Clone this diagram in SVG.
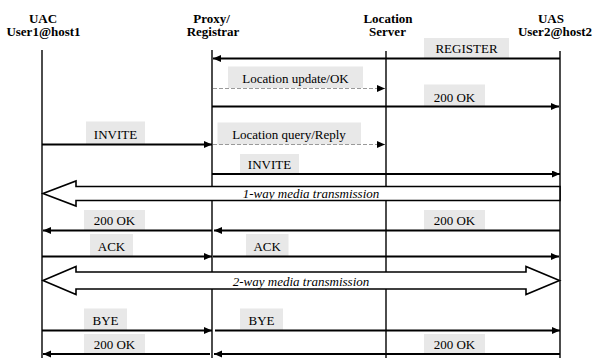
<svg xmlns="http://www.w3.org/2000/svg" width="596" height="358" viewBox="0 0 596 358">
<style>
.hdr{font-family:"Liberation Serif","Times New Roman",serif;font-weight:bold;font-size:13px;text-anchor:middle;fill:#000}
.lbl{font-family:"Liberation Serif","Times New Roman",serif;font-size:13px;text-anchor:middle;fill:#000}
.media{font-family:"Liberation Serif","Times New Roman",serif;font-style:italic;font-size:13px;text-anchor:middle;fill:#000}
.life{stroke:#000;stroke-width:1.4}
.msg{stroke:#000;stroke-width:1.8;fill:none}
.dash{stroke:#999;stroke-width:1;stroke-dasharray:4 2;fill:none}
.box{fill:#e8e8e8}
.big{fill:#fff;stroke:#000;stroke-width:1.6;stroke-linejoin:miter}
</style>
<defs>
<marker id="ah" markerUnits="userSpaceOnUse" markerWidth="10" markerHeight="8" refX="8" refY="3.5" orient="auto">
<path d="M0,0 L8,3.5 L0,7 z" fill="#000"/>
</marker>
</defs>
<rect width="596" height="358" fill="#fff"/>

<g id="uac">
<text class="hdr" x="43" y="22.5">UAC</text>
<text class="hdr" x="43.5" y="36">User1@host1</text>
<line class="life" x1="42" y1="50" x2="42" y2="358"/>
</g>
<g id="proxy">
<text class="hdr" x="211.5" y="22.5">Proxy/</text>
<text class="hdr" x="213" y="36">Registrar</text>
<line class="life" x1="212" y1="50" x2="212" y2="358"/>
</g>
<g id="location">
<text class="hdr" x="388" y="22.5">Location</text>
<text class="hdr" x="387.5" y="36">Server</text>
<line class="life" x1="386" y1="51" x2="386" y2="358"/>
</g>
<g id="uas">
<text class="hdr" x="551" y="22.5">UAS</text>
<text class="hdr" x="555" y="36">User2@host2</text>
<line class="life" x1="560" y1="51" x2="560" y2="358"/>
</g>

<g id="connectors">
<!-- media transmissions -->
<polygon class="big" points="43,193.5 76,181 76,186.5 560,186.5 560,200.5 76,200.5 76,206"/>
<text class="media" x="311" y="198">1-way media transmission</text>
<polygon class="big" points="43,280.5 76,266.5 76,272 526,272 526,266.5 559.5,280.5 526,294.5 526,289 76,289 76,294.5"/>
<text class="media" x="301" y="286">2-way media transmission</text>

<!-- REGISTER -->
<rect class="box" x="424" y="38" width="85" height="20"/>
<text class="lbl" x="466.5" y="52.5">REGISTER</text>
<line class="msg" x1="560" y1="58.5" x2="213" y2="58.5" marker-end="url(#ah)"/>

<!-- Location update/OK -->
<rect class="box" x="228" y="66.5" width="135" height="21.5"/>
<text class="lbl" x="295.5" y="83">Location update/OK</text>
<line class="dash" x1="213" y1="88.5" x2="385" y2="88.5" marker-end="url(#ah)"/>

<!-- 200 OK -->
<rect class="box" x="424" y="84.5" width="61" height="22"/>
<text class="lbl" x="454.5" y="101.5">200 OK</text>
<line class="msg" x1="212" y1="106.5" x2="559" y2="106.5" marker-end="url(#ah)"/>

<!-- INVITE -->
<rect class="box" x="86" y="121.5" width="59" height="22.5"/>
<text class="lbl" x="115.5" y="138.5">INVITE</text>
<line class="msg" x1="42" y1="144.5" x2="212" y2="144.5" marker-end="url(#ah)"/>

<!-- Location query/Reply -->
<rect class="box" x="217.5" y="122.5" width="143.5" height="22"/>
<text class="lbl" x="289" y="139">Location query/Reply</text>
<line class="dash" x1="213" y1="144.5" x2="385" y2="144.5" marker-end="url(#ah)"/>

<!-- INVITE 2 -->
<rect class="box" x="240" y="154" width="59" height="19.5"/>
<text class="lbl" x="269.5" y="168.5">INVITE</text>
<line class="msg" x1="212" y1="174" x2="560" y2="174" marker-end="url(#ah)"/>

<!-- 200 OK -->
<rect class="box" x="84" y="210" width="61" height="20"/>
<text class="lbl" x="114.5" y="225">200 OK</text>
<line class="msg" x1="212" y1="230.5" x2="43" y2="230.5" marker-end="url(#ah)"/>
<rect class="box" x="424" y="210" width="61" height="20"/>
<text class="lbl" x="454.5" y="225">200 OK</text>
<line class="msg" x1="560" y1="230.5" x2="214" y2="230.5" marker-end="url(#ah)"/>

<!-- ACK -->
<rect class="box" x="90" y="234" width="43" height="22.5"/>
<text class="lbl" x="111.5" y="251">ACK</text>
<line class="msg" x1="42" y1="256.5" x2="212" y2="256.5" marker-end="url(#ah)"/>
<rect class="box" x="246" y="234" width="42.5" height="22.5"/>
<text class="lbl" x="267.2" y="251">ACK</text>
<line class="msg" x1="213" y1="256.5" x2="559" y2="256.5" marker-end="url(#ah)"/>

<!-- BYE -->
<rect class="box" x="84" y="308.5" width="43" height="22"/>
<text class="lbl" x="105.5" y="325">BYE</text>
<line class="msg" x1="42" y1="330.5" x2="212" y2="330.5" marker-end="url(#ah)"/>
<rect class="box" x="240" y="308.5" width="43" height="22"/>
<text class="lbl" x="261.5" y="325">BYE</text>
<line class="msg" x1="215" y1="330.5" x2="560" y2="330.5" marker-end="url(#ah)"/>

<!-- 200 OK -->
<rect class="box" x="84" y="334" width="61" height="20"/>
<text class="lbl" x="114.5" y="349">200 OK</text>
<line class="msg" x1="210" y1="354" x2="43" y2="354" marker-end="url(#ah)"/>
<rect class="box" x="424" y="334" width="61" height="20"/>
<text class="lbl" x="454.5" y="349">200 OK</text>
<line class="msg" x1="560" y1="354" x2="214" y2="354" marker-end="url(#ah)"/>
</g>
</svg>
